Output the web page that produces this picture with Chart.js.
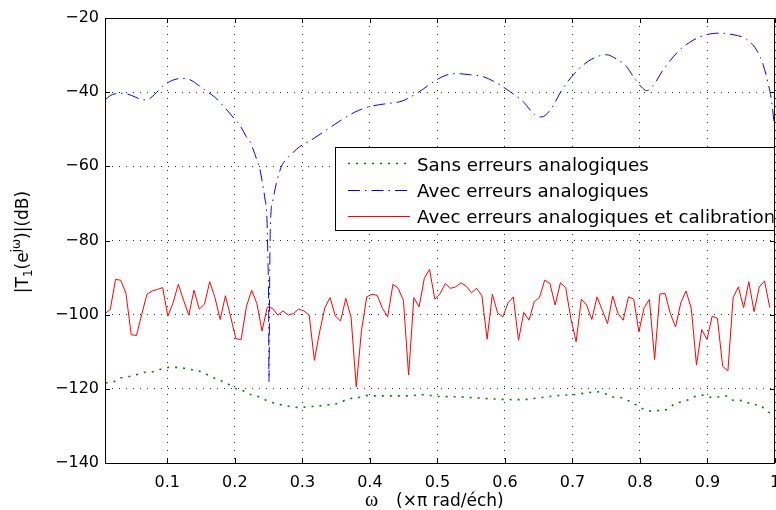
<!DOCTYPE html>
<html>
<head>
<meta charset="utf-8">
<script src="https://cdn.jsdelivr.net/npm/chart.js@4.4.0/dist/chart.umd.min.js"></script>
<style>
html,body{margin:0;padding:0;background:#fff;}
#wrap{width:776px;height:510px;position:relative;}
</style>
</head>
<body>
<div id="wrap"><canvas id="c" width="776" height="510"></canvas></div>
<script>
// ---------- data ----------
const seriesNames = ['Sans erreurs analogiques', 'Avec erreurs analogiques', 'Avec erreurs analogiques et calibration'];
const xTickLabels = ['0.1','0.2','0.3','0.4','0.5','0.6','0.7','0.8','0.9','1'];
const yTickLabels = ['\u2212140','\u2212120','\u2212100','\u221280','\u221260','\u221240','\u221220'];

// green: without analog errors
const greenOmega = [0.0086,0.0204,0.0279,0.0401,0.0526,0.0653,0.0778,0.0901,0.1024,0.1167,0.1290,0.1419,0.1542,0.1656,0.1785,0.1908,0.2012,0.2135,0.2253,0.2367,0.2490,0.2664,0.2797,0.2920,0.3059,0.3182,0.3305,0.3430,0.3553,0.3676,0.3800,0.3923,0.4071,0.4194,0.4333,0.4467,0.4604,0.4738,0.4837,0.4960,0.5150,0.5356,0.5701,0.6116,0.6264,0.6516,0.6856,0.7004,0.7207,0.7356,0.7479,0.7597,0.7726,0.7859,0.7967,0.8096,0.8190,0.8293,0.8412,0.8516,0.8615,0.8723,0.8827,0.8930,0.9059,0.9153,0.9271,0.9356,0.9464,0.9578,0.9652,0.9775,0.9849,0.9972,1.0];
const greenDb = [-118.4,-118.1,-117.2,-116.8,-116.3,-115.6,-115.4,-114.7,-114.2,-114.2,-114.6,-115.0,-115.7,-116.8,-117.7,-118.8,-119.9,-120.6,-121.7,-122.2,-123.3,-124.2,-124.7,-125.0,-124.9,-124.7,-124.5,-124.2,-123.8,-122.7,-122.5,-121.8,-121.9,-121.9,-121.9,-121.9,-121.9,-121.6,-121.6,-122.0,-122.1,-122.2,-122.6,-122.9,-122.9,-122.4,-121.7,-121.6,-121.1,-120.8,-121.3,-122.2,-122.4,-123.5,-124.6,-125.8,-126.0,-125.8,-125.5,-124.0,-123.5,-122.9,-122.0,-121.7,-122.3,-122.2,-121.9,-123.0,-123.1,-123.5,-124.3,-124.3,-125.6,-126.9,-127.0];

// blue: with analog errors
const blueOmega = [0.0086,0.0190,0.0342,0.0471,0.0590,0.0689,0.0812,0.0935,0.1064,0.1197,0.1330,0.1479,0.1582,0.1701,0.1834,0.1972,0.2071,0.2170,0.2219,0.2293,0.2342,0.2367,0.2404,0.2441,0.2476,0.2490,0.2501,0.2505,0.2516,0.2526,0.2564,0.2615,0.2689,0.2767,0.2861,0.2960,0.3133,0.3356,0.3578,0.3775,0.3997,0.4244,0.4441,0.4541,0.4738,0.4985,0.5133,0.5281,0.5479,0.5676,0.5923,0.6070,0.6268,0.6441,0.6541,0.6664,0.6861,0.7034,0.7231,0.7404,0.7504,0.7627,0.7800,0.7923,0.8022,0.8096,0.8194,0.8342,0.8590,0.8787,0.8985,0.9182,0.9379,0.9578,0.9726,0.9824,0.9898,0.9947,0.9982,1.0];
const blueDb = [-41.9,-40.6,-40.3,-40.9,-41.8,-42.1,-40.6,-38.3,-36.9,-36.3,-36.6,-38.4,-39.8,-41.3,-43.8,-46.7,-48.8,-52.0,-53.2,-56.5,-59.2,-60.5,-64.0,-68.2,-74.5,-85.3,-98.8,-118.0,-90.0,-76.3,-69.1,-64.6,-60.1,-58.0,-56.3,-54.7,-52.9,-50.2,-47.5,-45.4,-43.9,-43.1,-42.6,-41.9,-39.8,-36.7,-35.4,-35.0,-35.3,-35.8,-38.0,-39.8,-42.5,-46.1,-46.7,-45.0,-38.9,-34.9,-31.7,-30.2,-29.9,-30.8,-33.1,-36.4,-38.6,-39.6,-38.3,-34.0,-28.6,-26.0,-24.5,-24.1,-24.5,-25.7,-28.6,-32.6,-37.6,-42.1,-47.5,-50.2];

// red: with analog errors and calibration (one value per frequency bin)
const redDb = [-99.7,-98.6,-90.5,-90.7,-94.3,-105.4,-105.6,-100.0,-94.5,-93.6,-93.2,-92.7,-100.4,-96.8,-91.8,-96.1,-100.1,-93.4,-98.5,-97.2,-91.1,-95.4,-101.3,-94.9,-100.6,-106.5,-106.7,-97.9,-93.4,-97.0,-104.4,-97.9,-98.3,-100.1,-99.0,-100.1,-99.7,-98.5,-99.0,-100.1,-112.3,-104.6,-98.1,-95.4,-100.4,-101.7,-95.6,-100.6,-119.5,-104.2,-95.2,-94.5,-94.8,-98.3,-100.6,-91.8,-92.9,-96.1,-116.3,-95.4,-97.9,-90.2,-87.8,-95.8,-94.4,-91.6,-92.9,-92.5,-91.4,-92.3,-94.1,-92.9,-94.9,-106.6,-94.5,-99.5,-100.6,-96.8,-95.2,-106.9,-99.4,-101.5,-96.5,-95.4,-90.7,-91.6,-97.4,-91.4,-92.7,-101.0,-107.3,-95.8,-97.4,-101.3,-95.2,-98.8,-102.4,-95.0,-99.7,-101.5,-95.2,-95.8,-104.6,-98.1,-95.9,-112.1,-94.4,-94.3,-99.7,-103.3,-96.8,-93.6,-98.3,-113.6,-104.0,-106.7,-100.4,-101.0,-113.9,-115.2,-95.4,-92.5,-98.1,-91.1,-99.2,-92.5,-90.9,-98.1];
const redBins = 129;

// ---------- build ----------
const toXY = (xs, ys) => ys.map((v, i) => ({x: xs[i], y: v}));
const redOmega = redDb.map((_, i) => (i + 1) / redBins);

const COLORS = ['rgb(0,128,0)', 'rgb(0,0,255)', 'rgb(255,0,0)'];
const DASHES = [[2, 6], [12, 5, 1.5, 5], []];
const WIDTHS = [1.6, 1, 1];
const TICK_FONT = {family: 'DejaVu Sans', size: 16};
const GRID_COLOR = 'rgba(0,0,0,0.85)';

const framePlugin = {
  id: 'frame',
  afterDatasetsDraw(chart) {
    const {ctx, chartArea: a, scales: {x, y}} = chart;
    ctx.save();
    ctx.strokeStyle = '#000';
    ctx.lineWidth = 1;
    ctx.setLineDash([]);
    ctx.beginPath();
    ctx.rect(Math.round(a.left) + 0.5, Math.round(a.top) + 0.5, Math.round(a.right - a.left) - 1, Math.round(a.bottom - a.top));
    ctx.stroke();
    const L = 5;
    ctx.beginPath();
    x.ticks.forEach(t => {
      const px = Math.round(x.getPixelForValue(t.value)) + 0.5;
      ctx.moveTo(px, a.bottom); ctx.lineTo(px, a.bottom - L);
      ctx.moveTo(px, a.top); ctx.lineTo(px, a.top + L);
    });
    y.ticks.forEach(t => {
      const py = Math.round(y.getPixelForValue(t.value)) + 0.5;
      ctx.moveTo(a.left, py); ctx.lineTo(a.left + L, py);
      ctx.moveTo(a.right, py); ctx.lineTo(a.right - L, py);
    });
    ctx.stroke();
    ctx.restore();
  },
  afterDraw(chart) {
    const {ctx} = chart;
    ctx.save();
    // legend box
    const bx = 335.5, by = 147.5, bw = 439, bh = 83;
    ctx.fillStyle = '#fff';
    ctx.fillRect(bx, by, bw, bh);
    ctx.strokeStyle = '#000';
    ctx.lineWidth = 1;
    ctx.strokeRect(bx, by, bw, bh);
    const rowsLine = [163.5, 190.5, 216.5];
    const rowsText = [170.7, 197, 223.3];
    ctx.save();
    ctx.beginPath();
    ctx.rect(bx, by, bw - 1, bh);
    ctx.clip();
    for (let i = 0; i < 3; i++) {
      ctx.beginPath();
      ctx.setLineDash(DASHES[i]);
      ctx.strokeStyle = COLORS[i];
      ctx.lineWidth = WIDTHS[i];
      ctx.moveTo(348, rowsLine[i]);
      ctx.lineTo(410, rowsLine[i]);
      ctx.stroke();
      ctx.setLineDash([]);
      ctx.fillStyle = '#000';
      ctx.font = '18.3px "DejaVu Sans"';
      ctx.textBaseline = 'alphabetic';
      ctx.textAlign = 'left';
      ctx.fillText(seriesNames[i], 417, rowsText[i]);
    }
    ctx.restore();

    // x axis title
    ctx.fillStyle = '#000';
    ctx.textBaseline = 'alphabetic';
    ctx.textAlign = 'left';
    ctx.font = '20px "Liberation Serif"';
    ctx.fillText('\u03c9', 365, 506);
    ctx.font = '17px "DejaVu Sans"';
    ctx.fillText('(\u00d7\u03c0 rad/\u00e9ch)', 396, 506);

    // y axis title with subscript / superscript
    const parts = [
      {t: '|T', f: '17px "DejaVu Sans"', dy: 0},
      {t: '1', f: '12px "DejaVu Sans"', dy: 4},
      {t: '(e', f: '17px "DejaVu Sans"', dy: 0},
      {t: 'j\u03c9', f: '12px "DejaVu Sans"', dy: -8},
      {t: ')|(dB)', f: '17px "DejaVu Sans"', dy: 0}
    ];
    let total = 0;
    parts.forEach(p => { ctx.font = p.f; p.w = ctx.measureText(p.t).width; total += p.w; });
    ctx.translate(28, 242);
    ctx.rotate(-Math.PI / 2);
    let cx = -total / 2;
    parts.forEach(p => {
      ctx.font = p.f;
      ctx.fillText(p.t, cx, p.dy);
      cx += p.w;
    });
    ctx.restore();
  }
};

new Chart(document.getElementById('c'), {
  type: 'line',
  data: {
    datasets: [
      {label: seriesNames[0], data: toXY(greenOmega, greenDb), borderColor: COLORS[0], borderWidth: WIDTHS[0], borderDash: DASHES[0], pointRadius: 0, cubicInterpolationMode: 'monotone', fill: false},
      {label: seriesNames[1], data: toXY(blueOmega, blueDb), borderColor: COLORS[1], borderWidth: WIDTHS[1], borderDash: DASHES[1], pointRadius: 0, cubicInterpolationMode: 'monotone', fill: false},
      {label: seriesNames[2], data: toXY(redOmega, redDb), borderColor: COLORS[2], borderWidth: WIDTHS[2], pointRadius: 0, tension: 0, fill: false}
    ]
  },
  options: {
    responsive: false,
    animation: false,
    devicePixelRatio: 1,
    layout: {padding: {top: 18, right: 1, left: 0, bottom: 0}},
    plugins: {legend: {display: false}, tooltip: {enabled: false}, title: {display: false}},
    scales: {
      x: {
        type: 'linear',
        min: 0.0077, max: 1,
        border: {display: false, dash: [1, 7]},
        grid: {color: GRID_COLOR, lineWidth: 1, drawTicks: false},
        ticks: {
          stepSize: 0.1, includeBounds: false, autoSkip: false, maxRotation: 0, minRotation: 0,
          padding: 10, color: '#000', font: TICK_FONT,
          callback: (v) => { const i = Math.round(v * 10) - 1; return xTickLabels[i] !== undefined ? xTickLabels[i] : ''; }
        },
        afterFit: (s) => { s.height = 47; s.paddingLeft = 0; s.paddingRight = 0; }
      },
      y: {
        type: 'linear',
        min: -140, max: -20,
        border: {display: false, dash: [1, 6]},
        grid: {color: GRID_COLOR, lineWidth: 1, drawTicks: false},
        ticks: {
          stepSize: 20, autoSkip: false, padding: 6, color: '#000', font: TICK_FONT,
          callback: (v) => { const i = Math.round((v + 140) / 20); return yTickLabels[i] !== undefined ? yTickLabels[i] : ''; }
        },
        afterFit: (s) => { s.width = 105; s.paddingTop = 0; s.paddingBottom = 0; }
      }
    }
  },
  plugins: [framePlugin]
});
</script>
</body>
</html>
